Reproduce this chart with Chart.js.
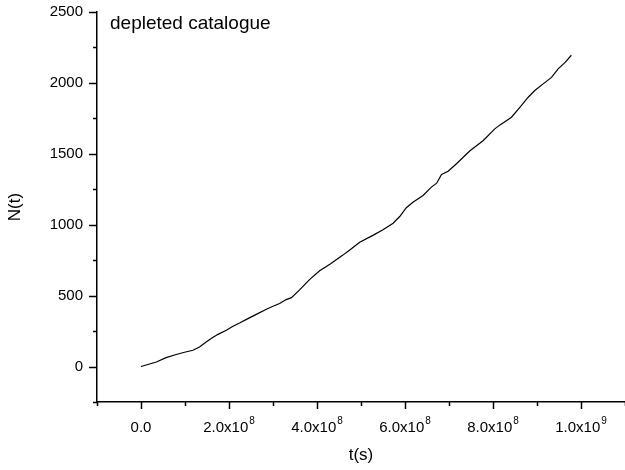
<!DOCTYPE html>
<html>
<head>
<meta charset="utf-8">
<script src="https://cdn.jsdelivr.net/npm/chart.js@4.4.1/dist/chart.umd.min.js"></script>
<style>
    html, body { margin: 0; padding: 0; background: #fff; }
    #wrap { width: 625px; height: 470px; }
</style>
</head>
<body>
<div id="wrap"><canvas id="chart"></canvas></div>
<script>
// N(t) for the depleted catalogue
const times = [
    0, 3.5e7, 5.7e7, 8.0e7, 9.9e7, 1.18e8, 1.33e8, 1.48e8, 1.63e8, 1.75e8,
    1.94e8, 2.09e8, 2.24e8, 2.43e8, 2.62e8, 2.85e8, 3.00e8, 3.15e8, 3.30e8, 3.42e8,
    3.61e8, 3.83e8, 4.06e8, 4.31e8, 4.58e8, 4.73e8, 4.97e8, 5.27e8, 5.50e8, 5.73e8,
    5.88e8, 6.03e8, 6.18e8, 6.41e8, 6.60e8, 6.72e8, 6.83e8, 6.98e8, 7.17e8, 7.47e8,
    7.78e8, 8.04e8, 8.16e8, 8.42e8, 8.61e8, 8.80e8, 8.95e8, 9.14e8, 9.33e8, 9.48e8,
    9.64e8, 9.78e8
];
const counts = [
    0, 32, 63, 85, 101, 115, 138, 173, 204, 227,
    256, 284, 307, 338, 368, 404, 425, 444, 472, 486,
    542, 613, 675, 725, 784, 819, 877, 925, 965, 1011,
    1058, 1120, 1159, 1206, 1265, 1293, 1354, 1377, 1430, 1520,
    1594, 1676, 1704, 1758, 1828, 1899, 1946, 1993, 2039, 2099,
    2145, 2195
];

const xMin = -1e8, xMax = 1.1e9, xStep = 1e8;
const yMin = -250, yMax = 2500, yStep = 250;
const annotation = 'depleted catalogue';

const FONT = 'Arial, "Liberation Sans", sans-serif';

// "2.0x10" + eksponent, eller "0.0"
function sciParts(v) {
    if (Math.abs(v) < 1) return ['0.0', ''];
    const e = Math.floor(Math.log10(Math.abs(v)) + 1e-9);
    const m = (v / Math.pow(10, e)).toFixed(1);
    return [m + 'x10', String(e)];
}

// tick-streger udad + x-etiketter med hævet eksponent + tekst i hjørnet
const axisDecor = {
    id: 'axisDecor',
    afterDraw(chart) {
        const ctx = chart.ctx;
        const xs = chart.scales.x, ys = chart.scales.y;
        ctx.save();
        ctx.strokeStyle = '#000';
        ctx.lineWidth = 1.5;
        ctx.beginPath();
        xs.ticks.forEach(t => {
            const major = Math.round(t.value / xStep) % 2 === 0;
            const px = Math.round(xs.getPixelForValue(t.value)) + 0.5;
            ctx.moveTo(px, xs.top);
            ctx.lineTo(px, xs.top + (major ? 7 : 4));
        });
        ys.ticks.forEach(t => {
            const major = Math.round(t.value / yStep) % 2 === 0;
            const py = Math.round(ys.getPixelForValue(t.value)) + 0.5;
            ctx.moveTo(ys.right, py);
            ctx.lineTo(ys.right - (major ? 8 : 4), py);
        });
        ctx.stroke();

        ctx.fillStyle = '#000';
        ctx.textBaseline = 'alphabetic';
        ctx.textAlign = 'left';
        xs.ticks.forEach(t => {
            if (Math.round(t.value / xStep) % 2 !== 0) return;
            const [base, exp] = sciParts(t.value);
            ctx.font = '15px ' + FONT;
            const wb = ctx.measureText(base).width;
            ctx.font = '10px ' + FONT;
            const we = exp ? ctx.measureText(exp).width + 1 : 0;
            const x0 = xs.getPixelForValue(t.value) - (wb + we) / 2;
            ctx.font = '15px ' + FONT;
            ctx.fillText(base, x0, xs.top + 30);
            if (exp) {
                ctx.font = '10px ' + FONT;
                ctx.fillText(exp, x0 + wb + 1, xs.top + 22);
            }
        });

        ctx.font = '19px ' + FONT;
        ctx.textBaseline = 'middle';
        ctx.fillText(annotation, 110, 24);
        ctx.restore();
    }
};

new Chart(document.querySelector('#chart'), {
    type: 'scatter',
    data: {
        datasets: [{
            data: times.map((t, i) => ({ x: t, y: counts[i] })),
            showLine: true,
            borderColor: '#000',
            borderWidth: 1.2,
            pointRadius: 0,
            tension: 0
        }]
    },
    options: {
        responsive: true,
        maintainAspectRatio: false,
        animation: false,
        layout: { padding: { top: 12, right: 0, bottom: 0, left: 0 } },
        scales: {
            x: {
                type: 'linear',
                min: xMin,
                max: xMax,
                grid: { display: false, drawTicks: false },
                border: { display: true, color: '#000', width: 1.5 },
                ticks: {
                    stepSize: xStep,
                    autoSkip: false,
                    maxRotation: 0,
                    display: false
                },
                title: {
                    display: true,
                    text: 't(s)',
                    color: '#000',
                    font: { family: FONT, size: 17 },
                    padding: { top: 0, bottom: 4 }
                },
                afterFit: s => {
                    s.height = 68;
                    s.paddingLeft = 0;
                    s.paddingRight = 0;
                }
            },
            y: {
                type: 'linear',
                min: yMin,
                max: yMax,
                grid: { display: false, drawTicks: false },
                border: { display: true, color: '#000', width: 1.5 },
                ticks: {
                    stepSize: yStep,
                    autoSkip: false,
                    padding: 14,
                    color: '#000',
                    font: { family: FONT, size: 15 },
                    callback: v => Math.round(v / yStep) % 2 === 0 ? String(v) : ''
                },
                title: {
                    display: true,
                    text: 'N(t)',
                    color: '#000',
                    font: { family: FONT, size: 17 },
                    padding: { top: 5, bottom: 0 }
                },
                afterFit: s => {
                    s.width = 97;
                    s.paddingTop = 0;
                    s.paddingBottom = 0;
                }
            }
        },
        plugins: {
            legend: { display: false },
            tooltip: { enabled: false }
        }
    },
    plugins: [axisDecor]
});
</script>
</body>
</html>
